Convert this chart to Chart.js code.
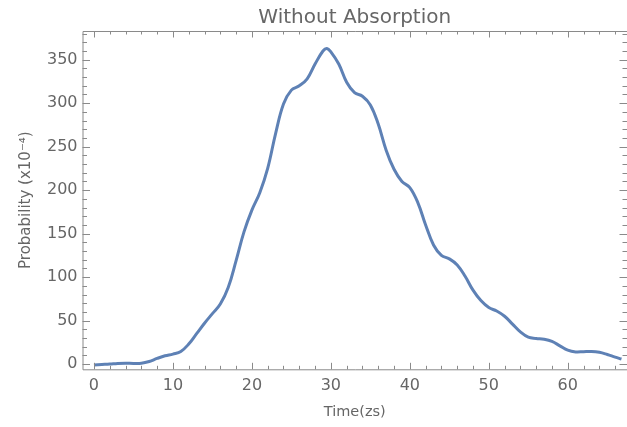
<!DOCTYPE html>
<html>
<head>
<meta charset="utf-8">
<script src="https://cdn.jsdelivr.net/npm/chart.js@4"></script>
<style>
html,body{margin:0;padding:0;background:#fff;}
#wrap{width:627px;height:427px;}
</style>
</head>
<body>
<div id="wrap"><canvas id="c" width="627" height="427"></canvas></div>
<script>
// Data
const timeZs = [0,1,2,3,4,5,6,7,8,9,10,11,12,13,14,15,16,17,18,19,20,21,22,23,24,25,26,27,28,29,29.5,30,31,32,33,34,35,36,37,38,39,40,41,42,43,44,45,46,47,48,49,50,51,52,53,54,55,56,57,58,59,60,61,62,63,64,65,66,66.8];
const probability = [-1,-0.5,0,0.8,1,0.8,1,3,6.5,9.5,11.5,14.5,23,35,47,58,69,88,119,152,177,197,225,265,299,315,320,328,345,360,363,359,345,324,312,308,298,276,246,224,210,203,186,160,137,125,121,114,101,85,73,65,61,55,46,37,31,29.5,28.5,26,21,16,14,14.3,14.5,13.5,11,8,5.8];
const xMajorTicks = [0,10,20,30,40,50,60];
const yMajorTicks = [0,50,100,150,200,250,300,350];
const chartTitle = 'Without Absorption';
const xTitle = 'Time(zs)';
const yTitle = 'Probability (x10\u207B\u2074)';

const points = timeZs.map((t,i)=>({x:t,y:probability[i]}));

const frameColor = '#8a8a8a';
const textColor = '#666666';

const framePlugin = {
  id:'frame',
  afterDraw(chart){
    const {ctx, chartArea:a, scales:{x,y}} = chart;
    ctx.save();
    ctx.strokeStyle = frameColor;
    ctx.lineWidth = 1;
    ctx.beginPath();
    ctx.moveTo(a.left+0.5, a.top+0.5); ctx.lineTo(a.right+0.5, a.top+0.5);
    ctx.moveTo(a.left+0.5, a.top+0.5); ctx.lineTo(a.left+0.5, a.bottom+0.5);
    ctx.moveTo(a.left+0.5, a.bottom+0.5); ctx.lineTo(a.right+0.5, a.bottom+0.5);
    ctx.moveTo(a.right+0.5, a.top+0.5); ctx.lineTo(a.right+0.5, a.bottom+0.5);
    for(let v=0; v<=x.max; v+=2){
      const px = Math.round(x.getPixelForValue(v))+0.5;
      if(px<a.left||px>a.right) continue;
      const len = (v%10===0)?6.5:3.5;
      ctx.moveTo(px, a.bottom); ctx.lineTo(px, a.bottom-len);
      ctx.moveTo(px, a.top); ctx.lineTo(px, a.top+len);
    }
    for(let v=0; v<=y.max; v+=10){
      const py = Math.round(y.getPixelForValue(v))+0.5;
      if(py<a.top||py>a.bottom) continue;
      const len = (v%50===0)?7.5:4.5;
      ctx.moveTo(a.left, py); ctx.lineTo(a.left+len, py);
      ctx.moveTo(a.right, py); ctx.lineTo(a.right-len, py);
    }
    ctx.stroke();
    ctx.restore();
  }
};

new Chart(document.getElementById('c'), {
  type:'line',
  data:{datasets:[{
    data:points,
    borderColor:'#5E81B5',
    borderWidth:3,
    pointRadius:0,
    fill:false,
    tension:0.4
  }]},
  options:{
    responsive:false,
    animation:false,
    layout:{padding:{left:0,right:0,top:0,bottom:0}},
    plugins:{
      legend:{display:false},
      tooltip:{enabled:false},
      title:{
        display:true,
        text:chartTitle,
        fullSize:false,
        color:textColor,
        font:{family:'DejaVu Sans',size:20,weight:'normal'},
        padding:{top:6,bottom:1}
      }
    },
    scales:{
      x:{
        type:'linear',
        min:-1.45, max:67.5,
        afterBuildTicks(s){ s.ticks = xMajorTicks.map(v=>({value:v})); },
        afterFit(s){ s.height = 57.7; },
        grid:{display:false, drawTicks:false},
        border:{display:false},
        ticks:{color:textColor, padding:7, font:{family:'DejaVu Sans',size:16}, maxRotation:0},
        title:{display:true, text:xTitle, color:textColor, font:{family:'DejaVu Sans',size:14.5}, padding:{top:0,bottom:6}}
      },
      y:{
        type:'linear',
        min:-6, max:383,
        afterBuildTicks(s){ s.ticks = yMajorTicks.map(v=>({value:v})); },
        afterFit(s){ s.width = 82.5; },
        grid:{display:false, drawTicks:false},
        border:{display:false},
        ticks:{color:textColor, padding:5, font:{family:'DejaVu Sans',size:16}},
        title:{display:true, text:yTitle, color:textColor, font:{family:'DejaVu Sans',size:15}, padding:{top:17,bottom:0}}
      }
    }
  },
  plugins:[framePlugin]
});
</script>
</body>
</html>
